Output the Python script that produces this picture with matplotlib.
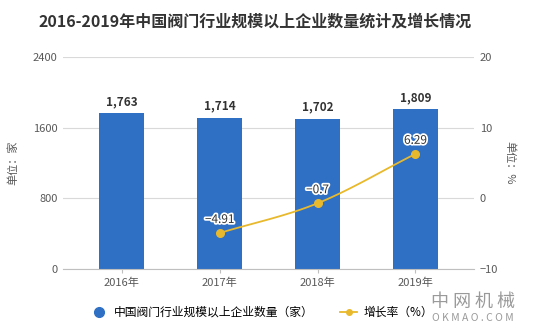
import numpy as np
import matplotlib
matplotlib.use("Agg")
import matplotlib.pyplot as plt
import matplotlib.patheffects as pe
from matplotlib.lines import Line2D

plt.rcParams["font.family"] = ["Noto Sans CJK SC", "DejaVu Sans"]

years = ["2016年", "2017年", "2018年", "2019年"]
companies = [1763, 1714, 1702, 1809]
growth_years = [1, 2, 3]
growth = [-4.91, -0.7, 6.29]

bar_color = "#2F70C4"
line_color = "#E8B92C"
text_gray = "#595959"
grid_gray = "#D9D9D9"


def smooth(xs, ys, n=60):
    # Catmull-Rom style curve through the points, just for drawing
    xs = np.asarray(xs, float)
    ys = np.asarray(ys, float)
    px = np.concatenate([[2 * xs[0] - xs[1]], xs, [2 * xs[-1] - xs[-2]]])
    py = np.concatenate([[2 * ys[0] - ys[1]], ys, [2 * ys[-1] - ys[-2]]])
    out_x, out_y = [], []
    for i in range(1, len(px) - 2):
        t = np.linspace(0, 1, n)
        for arr, out in ((px, out_x), (py, out_y)):
            p0, p1, p2, p3 = arr[i - 1], arr[i], arr[i + 1], arr[i + 2]
            out.extend(0.5 * (2 * p1 + (-p0 + p2) * t
                              + (2 * p0 - 5 * p1 + 4 * p2 - p3) * t ** 2
                              + (-p0 + 3 * p1 - 3 * p2 + p3) * t ** 3))
    return out_x, out_y


fig = plt.figure(figsize=(5.34, 3.35), dpi=100)
ax = fig.add_axes([0.118, 0.197, 0.770, 0.633])
x = np.arange(len(years))

ax.bar(x, companies, width=0.46, color=bar_color, zorder=2)
for xi, v in zip(x, companies):
    ax.text(xi, v + 60, f"{v:,}", ha="center", va="bottom", fontsize=8.5,
            fontweight="bold", color="#333333")

ax.set_xlim(-0.6, 3.6)
ax.set_ylim(0, 2400)
ax.set_yticks([0, 800, 1600, 2400])
ax.set_xticks(x)
ax.set_xticklabels(years)
ax.grid(axis="y", color=grid_gray, linewidth=0.8, zorder=0)
ax.set_axisbelow(True)
for s in ["top", "right", "left"]:
    ax.spines[s].set_visible(False)
ax.spines["bottom"].set_color("#BFBFBF")
ax.tick_params(axis="y", length=0, labelsize=8, labelcolor=text_gray, pad=4)
ax.tick_params(axis="x", length=3, color="#BFBFBF", labelsize=8, labelcolor=text_gray)
ax.set_ylabel("单位：家", fontsize=8, color=text_gray, labelpad=10)

ax2 = ax.twinx()
ax2.set_ylim(-10, 20)
ax2.set_yticks([-10, 0, 10, 20])
for s in ax2.spines.values():
    s.set_visible(False)
ax2.tick_params(axis="y", length=0, labelsize=8, labelcolor=text_gray, pad=4)
ax2.set_ylabel("单位：%", fontsize=8, color=text_gray, rotation=-90, labelpad=12)

sx, sy = smooth(growth_years, growth)
ax2.plot(sx, sy, color=line_color, linewidth=1.3, zorder=3)
ax2.plot(growth_years, growth, "o", color=line_color, markersize=5.5, zorder=4)
for xi, v in zip(growth_years, growth):
    label = f"{v:g}".replace("-", "−")
    ax2.text(xi, v + 1.0, label, ha="center", va="bottom", fontsize=8.5,
             color="#333333", zorder=5,
             path_effects=[pe.withStroke(linewidth=2.5, foreground="white")])

fig.text(0.478, 0.935, "2016-2019年中国阀门行业规模以上企业数量统计及增长情况",
         ha="center", va="center", fontsize=11.5, fontweight="bold", color="#333333")

handles = [
    Line2D([], [], marker="o", linestyle="none", color=bar_color, markersize=7),
    Line2D([], [], marker="o", color=line_color, markersize=4, linewidth=1.3),
]
fig.legend(handles, ["中国阀门行业规模以上企业数量（家）", "增长率（%）"],
           loc="center", bbox_to_anchor=(0.49, 0.068), ncol=2, frameon=False,
           fontsize=8.5, handlelength=1.5, columnspacing=2.2, handletextpad=0.5)

fig.text(0.885, 0.1, "中 网 机 械", ha="center", va="center", fontsize=13,
         color="#9A9A9A")
fig.text(0.885, 0.052, "O K M A O . C O M", ha="center", va="center", fontsize=7.5,
         color="#9A9A9A")

fig.savefig("out.png", dpi=100)
